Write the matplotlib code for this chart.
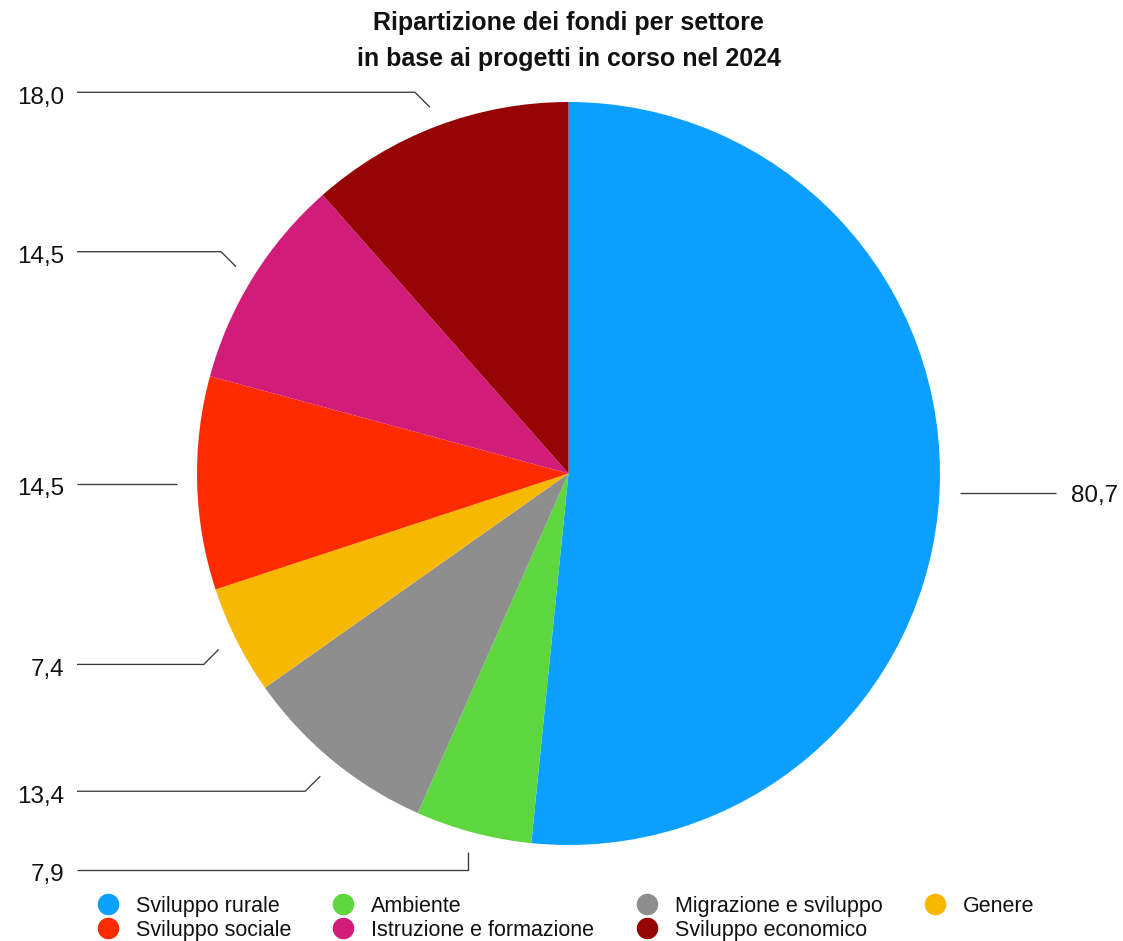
import matplotlib
matplotlib.use("Agg")
import matplotlib.pyplot as plt
from matplotlib.lines import Line2D
import numpy as np

plt.rcParams['font.family'] = ['Liberation Sans', 'DejaVu Sans']

# ---- data ----
categories = ["Sviluppo rurale", "Ambiente", "Migrazione e sviluppo", "Genere",
              "Sviluppo sociale", "Istruzione e formazione", "Sviluppo economico"]
values = [80.7, 7.9, 13.4, 7.4, 14.5, 14.5, 18.0]
value_labels = ["80,7", "7,9", "13,4", "7,4", "14,5", "14,5", "18,0"]
colors = ["#0BA0FF", "#5ED63D", "#8E8E8E", "#F6B800", "#FF2B00", "#D21C7A", "#960404"]
title = "Ripartizione dei fondi per settore\nin base ai progetti in corso nel 2024"
# leader style per slice
leader_style = ["flat", "vert", "diag", "diag", "flat", "diag", "diag"]

W, H = 1123, 941
fig = plt.figure(figsize=(W / 100, H / 100), dpi=100)
ax = fig.add_axes([0, 0, 1, 1])

cx, cy, R = 568.5, H - 473.5, 371.5
wedges, _ = ax.pie(values, colors=colors, startangle=90, counterclock=False,
                   center=(cx, cy), radius=R, frame=True,
                   wedgeprops=dict(linewidth=0))
ax.set_xlim(0, W)
ax.set_ylim(0, H)
ax.set_aspect('equal')
ax.axis('off')

line_kw = dict(color="#3a3a3a", lw=0.95, solid_capstyle='butt')
left_x = 77
for w, lab, st in zip(wedges, value_labels, leader_style):
    mid = np.deg2rad((w.theta1 + w.theta2) / 2)
    ex = cx + 1.054 * R * np.cos(mid)
    ey = cy + 1.054 * R * np.sin(mid)
    if np.cos(mid) > 0:
        # right side label
        ax.plot([ex, 1056], [ey, ey], **line_kw)
        ax.text(1071, ey - 3, lab, ha='left', va='center', fontsize=17.5, color='#111111')
        continue
    if st == "diag":
        sy = 1 if np.sin(mid) > 0 else -1
        bx, by = ex - 15, ey + sy * 15
    elif st == "vert":
        bx, by = ex, ey - 18
    else:
        bx, by = ex, ey
    ax.plot([left_x, bx, ex], [by, by, ey], **line_kw)
    ax.text(64, by - 5.5, lab, ha='right', va='center', fontsize=17.5, color='#111111')

ax.text(cx, H - 41, title, ha='center', va='center', fontsize=18, fontweight='bold',
        linespacing=1.68, color='#111111')

handles = [Line2D([], [], marker='o', linestyle='none', markersize=14.5,
                  markerfacecolor=c, markeredgecolor=c) for c in colors]
order = [0, 4, 1, 5, 2, 6, 3]
leg = ax.legend([handles[i] for i in order], [categories[i] for i in order],
                ncol=4, loc='upper left', bbox_to_anchor=(97 / W, 1 - 896 / H),
                frameon=False, fontsize=15.5, handlelength=1.0, handletextpad=0.8,
                columnspacing=1.93, labelspacing=0.12, borderpad=0, borderaxespad=0)
for t in leg.get_texts():
    t.set_color('#111111')

fig.savefig("out.png", dpi=100)
